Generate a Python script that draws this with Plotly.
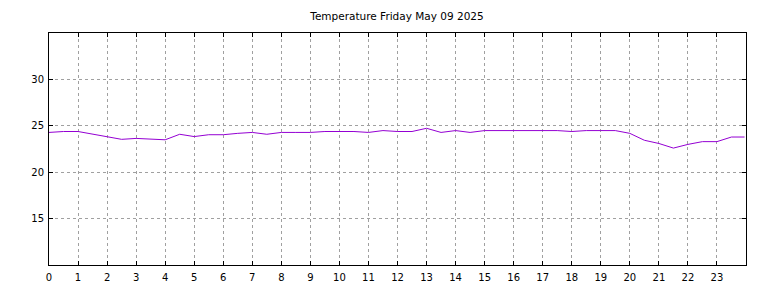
import plotly.graph_objects as go

hours = [0, 0.5, 1, 1.5, 2, 2.5, 3, 3.5, 4, 4.5, 5, 5.5, 6, 6.5, 7, 7.5, 8, 8.5, 9, 9.5,
         10, 10.5, 11, 11.5, 12, 12.5, 13, 13.5, 14, 14.5, 15, 15.5, 16, 16.5, 17, 17.5,
         18, 18.5, 19, 19.5, 20, 20.5, 21, 21.5, 22, 22.5, 23, 23.5, 23.95]
temps = [24.3, 24.4, 24.4, 24.1, 23.8, 23.55, 23.65, 23.55, 23.5, 24.1, 23.85, 24.05, 24.05, 24.2, 24.3, 24.1,
         24.3, 24.3, 24.3, 24.4, 24.4, 24.4, 24.3, 24.5, 24.4, 24.4, 24.75, 24.3, 24.5, 24.3,
         24.5, 24.5, 24.5, 24.5, 24.5, 24.5, 24.4, 24.5, 24.5, 24.5, 24.2, 23.45, 23.1, 22.6,
         23.0, 23.3, 23.3, 23.8, 23.8]
xticks = list(range(0, 24))
yticks = [15, 20, 25, 30]

fig = go.Figure(go.Scatter(x=hours, y=temps, mode="lines",
                           line=dict(color="#9400D3", width=1)))

axis_common = dict(showline=True, linecolor="black", linewidth=1, mirror="ticks",
                   ticks="inside", ticklen=4, tickcolor="black",
                   showgrid=True, gridcolor="#a0a0a0", griddash="dot", gridwidth=1,
                   zeroline=False, automargin=False,
                   tickfont=dict(family="DejaVu Sans", size=10, color="black"))

fig.update_layout(
    width=768, height=288,
    margin=dict(l=49, r=22, t=33, b=23),
    paper_bgcolor="white", plot_bgcolor="white",
    showlegend=False,
    title=dict(text="Temperature Friday May 09 2025", x=397/768, xanchor="center",
               y=1 - 16/288, yanchor="middle",
               font=dict(family="DejaVu Sans", size=10.5, color="black")),
    xaxis=dict(range=[0, 24], tickvals=xticks, ticktext=[str(t) for t in xticks],
               ticklabelstandoff=3, **axis_common),
    yaxis=dict(range=[9.9, 35.1], tickvals=yticks, ticklabelstandoff=2, **axis_common),
)

fig.write_html("out.html")
